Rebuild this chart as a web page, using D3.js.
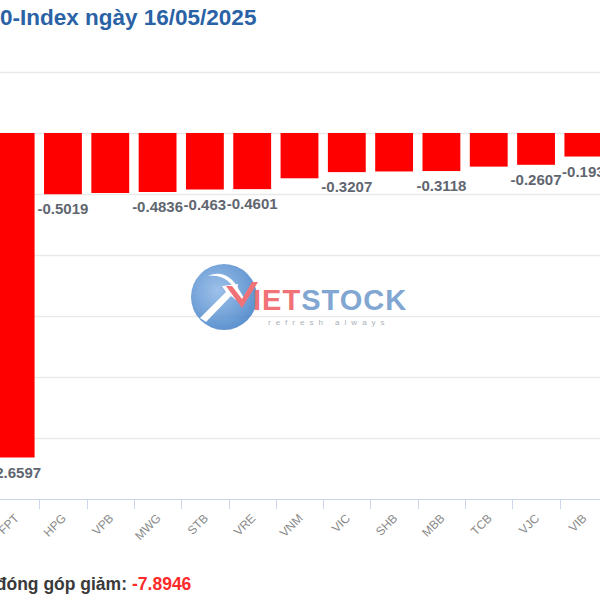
<!DOCTYPE html>
<html>
<head>
<meta charset="utf-8">
<script src="https://cdn.jsdelivr.net/npm/d3@7"></script>
<style>
  html, body { margin: 0; padding: 0; background: #fff; }
  svg { display: block; font-family: "Liberation Sans", Arial, sans-serif; }
</style>
</head>
<body>
<svg id="chart" width="600" height="600"></svg>
<script>
// ---- data ----
const titleText = "0-Index ngày 16/05/2025";
const categories = ["FPT", "HPG", "VPB", "MWG", "STB", "VRE", "VNM", "VIC", "SHB", "MBB", "TCB", "VJC", "VIB"];
const values = [-2.6597, -0.5019, -0.4917, -0.4836, -0.463, -0.4601, -0.3712, -0.3207, -0.3152, -0.3118, -0.2756, -0.2607, -0.193];
const yTicks = [0.5, 0, -0.5, -1, -1.5, -2, -2.5, -3];
const footerLabel = "đóng góp giảm:";
const footerValue = "-7.8946";

const svg = d3.select("#chart");
const W = 600;

const y = d3.scaleLinear().domain([-3, 0.5]).range([499, 72]);
const x = d3.scaleBand().domain(categories).range([-8, 607]).paddingInner(0.2).paddingOuter(0.1);

// title
svg.append("text")
  .attr("x", 0).attr("y", 25)
  .attr("fill", "#2a62a6")
  .attr("font-size", 22.5).attr("font-weight", "bold")
  .text(titleText);

// gridlines
svg.append("g").selectAll("line").data(yTicks.filter(t => t !== -3)).join("line")
  .attr("x1", 0).attr("x2", W)
  .attr("y1", d => Math.round(y(d)) + 0.5).attr("y2", d => Math.round(y(d)) + 0.5)
  .attr("stroke", "#e9e9e9").attr("stroke-width", 1.5);

// watermark logo
const logo = svg.append("g").attr("opacity", 0.85);
const defs = svg.append("defs");
const grad = defs.append("radialGradient").attr("id", "lg").attr("cx", "40%").attr("cy", "40%").attr("r", "65%");
grad.append("stop").attr("offset", "0%").attr("stop-color", "#8db6e6");
grad.append("stop").attr("offset", "100%").attr("stop-color", "#3f7ec6");
logo.append("circle").attr("cx", 224).attr("cy", 297).attr("r", 33).attr("fill", "url(#lg)");
logo.append("path")
  .attr("d", "M200,318 L226,292 L222,286 L238,284 L236,300 L231,296 L206,322 Z")
  .attr("fill", "#ffffff");
logo.append("path")
  .attr("d", "M208,276 C222,274 232,282 236,292 L244,304 L252,290 L248,290 L244,298 L238,288 C232,276 220,270 208,276 Z")
  .attr("fill", "#ffffff");
logo.append("path")
  .attr("d", "M226,286 L242,308 L258,282 L252,282 L242,299 L232,286 Z")
  .attr("fill", "#ef5a5f");
logo.append("text")
  .attr("x", 253).attr("y", 310)
  .attr("font-size", 29).attr("font-weight", "bold")
  .attr("letter-spacing", 1)
  .attr("fill", "#ef5a5f")
  .text("IET")
  .append("tspan").attr("fill", "#6a97c9").text("STOCK");
logo.append("text")
  .attr("x", 268).attr("y", 325)
  .attr("font-size", 8).attr("letter-spacing", 5)
  .attr("fill", "#9aa3ad")
  .text("refresh always");

// bars
svg.append("g").selectAll("rect").data(categories).join("rect")
  .attr("x", d => x(d))
  .attr("width", x.bandwidth())
  .attr("y", (d, i) => y(Math.max(0, values[i])))
  .attr("height", (d, i) => Math.abs(y(values[i]) - y(0)))
  .attr("fill", "#ff0000");

// x axis
const axisY = 499;
svg.append("line")
  .attr("x1", 0).attr("x2", W).attr("y1", axisY + 0.5).attr("y2", axisY + 0.5)
  .attr("stroke", "#ccd6eb");
const step = x.step();
const bounds = categories.map((d, i) => x.range()[0] + (i + 1) * step);
svg.append("g").selectAll("line").data(bounds).join("line")
  .attr("x1", d => Math.round(d) + 0.5).attr("x2", d => Math.round(d) + 0.5)
  .attr("y1", axisY).attr("y2", axisY + 10)
  .attr("stroke", "#ccd6eb");
svg.append("g").selectAll("text").data(categories).join("text")
  .attr("transform", d => `translate(${x(d) + x.bandwidth() / 2 + 4},${axisY + 20}) rotate(-45)`)
  .attr("text-anchor", "end")
  .attr("font-size", 12)
  .attr("fill", "#8a8a8a")
  .text(d => d);

// data labels with greedy overlap hiding
const labelG = svg.append("g");
const shown = [];
categories.forEach((d, i) => {
  const t = labelG.append("text")
    .attr("x", x(d) + x.bandwidth() / 2)
    .attr("y", y(values[i]) + 15)
    .attr("dy", "0.35em")
    .attr("text-anchor", "middle")
    .attr("font-size", 15)
    .attr("font-weight", "bold")
    .attr("fill", "#5f6670")
    .text(values[i]);
  const b = t.node().getBBox();
  const overlap = shown.some(s => !(b.x > s.x + s.width - 1 || b.x + b.width < s.x + 1 || b.y > s.y + s.height || b.y + b.height < s.y));
  if (overlap) t.remove(); else shown.push(b);
});

// footer
svg.append("text")
  .attr("x", 127).attr("y", 590)
  .attr("text-anchor", "end")
  .attr("font-size", 17.5).attr("font-weight", "bold")
  .attr("fill", "#3a3a3a")
  .text(footerLabel);
svg.append("text")
  .attr("x", 132).attr("y", 590)
  .attr("font-size", 17.5).attr("font-weight", "bold")
  .attr("fill", "#ff2a2a")
  .text(footerValue);
</script>
</body>
</html>
